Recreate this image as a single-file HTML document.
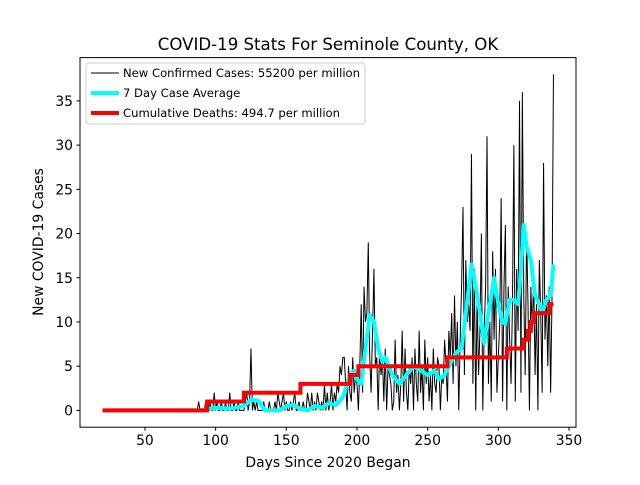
<!DOCTYPE html>
<html><head><meta charset="utf-8"><style>
body{margin:0;background:#fff}
svg text{font-family:"DejaVu Sans","Liberation Sans",sans-serif}
</style></head><body>
<svg id="chart" width="640" height="480" xmlns="http://www.w3.org/2000/svg">
<rect width="640" height="480" fill="#fff"/>
<text x="328" y="50" font-size="16.6" text-anchor="middle">COVID-19 Stats For Seminole County, OK</text>
<text x="328" y="467" font-size="13.9" text-anchor="middle">Days Since 2020 Began</text>
<text transform="translate(43,242) rotate(-90)" font-size="13.9" text-anchor="middle">New COVID-19 Cases</text>
<g id="plot"></g>
<rect x="80" y="57.6" width="496" height="369.6" fill="none" stroke="#000" stroke-width="1"/>
<g id="legend">
<rect x="86" y="63" width="279" height="61" rx="3" fill="#fff" fill-opacity="0.8" stroke="#ccc"/>
<line x1="91" y1="73" x2="119" y2="73" stroke="#000" stroke-width="1"/>
<text x="123" y="77" font-size="11.6">New Confirmed Cases: 55200 per million</text>
<line x1="91" y1="93" x2="119" y2="93" stroke="#00ffff" stroke-width="4"/>
<text x="123" y="97" font-size="11.6">7 Day Case Average</text>
<line x1="91" y1="113" x2="119" y2="113" stroke="#ff0000" stroke-width="4"/>
<text x="123" y="117" font-size="11.6">Cumulative Deaths: 494.7 per million</text>
</g>
</svg>
<script>
const caseStartDay = 20;
const cases = [
0,0,0,0,0,0,0,0,0,0,0,0,0,0,0,0,0,0,0,0,0,0,0,0,0,0,0,0,0,0,0,0,0,0,0,0,0,0,0,0,0,0,0,0,0,0,0,0,0,0,0,0,0,0,0,0,0,0,0,0,0,0,0,0,0,0,
0,0,1,0,0,0,0,1,0,0, 1,0,0,2,0,1,0,0,1,0, 0,1,0,0,2,0,0,1,0,0, 1,0,0,0,
0,1,2,0,1,7,0,1,0,1, 0,0,0,0,1,0,0,0,1,0, 0,0,1,0,2,1,0,1,2,0, 1,0,0,1,0,1,2,0,0,1,
0,0,1,0,0,2,1,0,2,0, 1,0,2,1,0,1,0,3,0,2, 0,1,3,0,2,1,3,2,5,4, 6,6,3,0,5,2,1,6,2,4,
3,0,5,12,2,14,10,11,19,6, 2,9,16,5,6,0,7,4,6,1, 7,0,5,4,3,0,1,8,2,4, 0,3,9,1,7,2,0,5,3,6,
0,7,3,1,9,2,5,0,8,3, 6,1,4,0,7,3,2,6,5,0, 4,3,8,5,1,9,6,11,3,13, 5,10,0,8,14,23,4,17,10,12,
9,29,3,16,0,13,4,9,20,0, 9,14,31,3,10,1,18,8,16,2, 6,10,24,1,14,21,0,14,8,3, 12,30,1,16,9,35,2,36,13,4,
20,12,0,14,9,15,4,12,0,17, 11,2,28,8,13,5,14,2,13,38];
const avgDays = [20,90,100,110,120,125,130,135,145,150,155,160,165,170,175,180,185,190,195,198,200,203,206,209,212,215,218,220,225,230,235,240,245,250,255,258,262,265,270,274,277,281,284,287,290,293,297,300,303,305,308,311,314,316,318,320,323,326,329,331,334,337,339];
const avgVals = [0,0,0.3,0.2,0.5,1.2,1.1,0,0,0.5,0.6,0.2,0,0.5,0.3,0.8,0.6,1.5,4,4.5,3.5,3,7,10.8,10,7,5.5,6,4,3,4,5,4.5,4,4.5,3.5,4,5,6.5,7,11,16.5,14,11,7.6,11,15,12,10,9.8,12.5,12.5,12,16,21,18.5,17,13,12,11,12.5,13,16.5];
const deathDays = [20,94,120,160,195,201,264,306,318,321,323,325,336,339];
const deathVals = [0,1,2,3,4,5,6,7,8,9,10,11,12,12];
const xTicks = [50,100,150,200,250,300,350];
const yTicks = [0,5,10,15,20,25,30,35];

const L=80,R=576,T=57.6,B=427.2, X0=4.05,X1=354.95, Y0=-1.9,Y1=39.9;
const xs=v=>L+(v-X0)/(X1-X0)*(R-L);
const ys=v=>B-(v-Y0)/(Y1-Y0)*(B-T);
const NS='http://www.w3.org/2000/svg';
const plot=document.getElementById('plot');
function mk(t,a){const e=document.createElementNS(NS,t);for(const k in a)e.setAttribute(k,a[k]);plot.appendChild(e);return e;}

xTicks.forEach(v=>{
  const l=mk('line',{x1:xs(v),x2:xs(v),y1:B,y2:B+3.5,stroke:'#000'});
  
  
  const t=mk('text',{x:xs(v),y:B+18,'font-size':13.9,'text-anchor':'middle'});t.textContent=v;
  
  
});
yTicks.forEach(v=>{
  const l=mk('line',{x1:L-3.5,x2:L,y1:ys(v),y2:ys(v),stroke:'#000'});
  
  
  const t=mk('text',{x:L-7,y:ys(v)+5,'font-size':13.9,'text-anchor':'end'});t.textContent=v;
  
  
});

const cp=cases.map((v,i)=>xs(caseStartDay+i).toFixed(2)+','+ys(v).toFixed(2)).join(' ');
const c=mk('polyline',{points:cp,fill:'none',stroke:'#000','stroke-width':1});



const ap=avgDays.map((d,i)=>xs(d).toFixed(2)+','+ys(avgVals[i]).toFixed(2)).join(' ');
const a=mk('polyline',{points:ap,fill:'none',stroke:'#00ffff','stroke-width':4,'stroke-linejoin':'round'});



let dp=[];
deathDays.forEach((d,i)=>{
  if(i>0) dp.push(xs(d).toFixed(2)+','+ys(deathVals[i-1]).toFixed(2));
  dp.push(xs(d).toFixed(2)+','+ys(deathVals[i]).toFixed(2));
});
const dl=mk('polyline',{points:dp.join(' '),fill:'none',stroke:'#ff0000','stroke-width':4});


</script>
</body></html>
